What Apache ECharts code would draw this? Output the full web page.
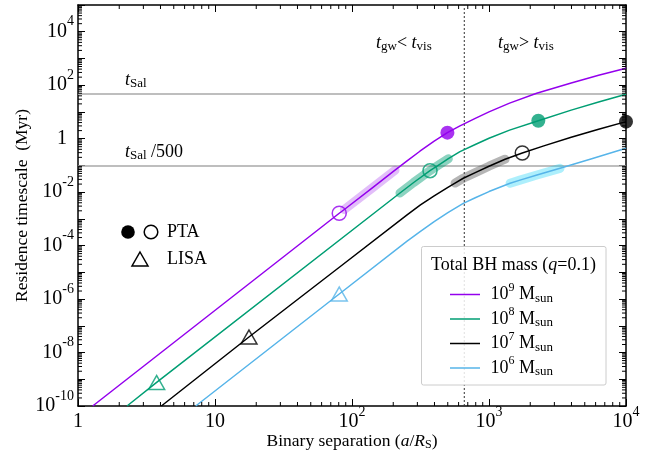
<!DOCTYPE html>
<html>
<head>
<meta charset="utf-8">
<script src="https://cdn.jsdelivr.net/npm/echarts@6/dist/echarts.min.js"></script>
<style>
  html, body { margin: 0; padding: 0; background: #fff; }
  #chart { width: 667px; height: 458px; }
</style>
</head>
<body>
<div id="chart"></div>
<script>
// Residence time (Myr) against binary separation (a / R_S) for four total masses, q = 0.1

// 10^9 Msun track
const sep9 = [1.28, 80.7, 87.9, 140, 206, 251, 313, 398, 497, 614, 794, 1000, 1413, 2228, 3981, 6310, 10000];
const res9 = [1e-10, 1.62e-3, 2.24e-3, 0.0141, 0.0661, 0.145, 0.339, 0.813, 1.68, 2.99, 5.75, 10, 21.4, 50.1, 121, 234, 430];
// 10^8 Msun track
const sep8 = [2.28, 3.75, 224, 282, 371, 437, 505, 614, 794, 1000, 1413, 2291, 3981, 6310, 10000];
const res8 = [1e-10, 7.6e-10, 9.3e-3, 0.0229, 0.0635, 0.110, 0.178, 0.327, 0.603, 1.035, 2.09, 4.68, 11.7, 23.4, 45.8];
// 10^7 Msun track
const sep7 = [4.06, 17.7, 81.7, 251, 316, 398, 501, 565, 649, 794, 1000, 1310, 1750, 2512, 3981, 6310, 10000];
const res7 = [1e-10, 3.8e-8, 1.62e-5, 1.38e-3, 3.31e-3, 7.24e-3, 0.0151, 0.0219, 0.0331, 0.0537, 0.0933, 0.17, 0.292, 0.537, 1.127, 2.24, 4.33];
// 10^6 Msun track
const sep6 = [7.23, 80.7, 251, 316, 398, 501, 649, 794, 1000, 1425, 1683, 2239, 3300, 5623, 10000];
const res6 = [1e-10, 1.55e-6, 1.45e-4, 3.39e-4, 7.94e-4, 1.70e-3, 3.8e-3, 6.17e-3, 0.0105, 0.0214, 0.0282, 0.0437, 0.0776, 0.178, 0.437];

// separation ranges highlighted along each track
const band9 = [87.9, 206];
const band8 = [224, 505];
const band7 = [565, 1310];
const band6 = [1425, 3300];

// PTA (filled / open circles) and LISA (triangles) points: [separation, time, track]
const ptaFilled = [[497, 1.68, 9], [2291, 4.68, 8], [10000, 4.33, 7]];
const ptaOpen   = [[80.7, 1.62e-3, 9], [371, 0.0635, 8], [1750, 0.292, 7]];
const lisaPts   = [[3.75, 7.6e-10, 8], [17.7, 3.8e-8, 7], [80.7, 1.55e-6, 6]];

// reference timescales (Myr)
const tSal = 47;
const tSalFrac = [tSal, tSal / 500];
// boundary between t_gw < t_vis and t_gw > t_vis
const sepBoundary = 660;

// axis extents and labelled decades
const xRange = [1, 1e4];
const yRange = [1e-10, 1e5];
const xLabelExps = [0, 1, 2, 3, 4];
const yLabelExps = [4, 2, 0, -2, -4, -6, -8, -10];

const COL = { 9: '#9400ED', 8: '#009E73', 7: '#000000', 6: '#56B4E9' };
const BAND_COL = {
  9: 'rgba(160, 40, 235, 0.30)',
  8: 'rgba(0, 158, 115, 0.45)',
  7: 'rgba(90, 90, 90, 0.45)',
  6: 'rgba(0, 205, 245, 0.32)'
};
const SERIF = '"Liberation Serif", "Times New Roman", serif';

const pair = (xs, ys) => xs.map((x, i) => [x, ys[i]]);
const inBand = (pts, r) => pts.filter(p => p[0] >= r[0] && p[0] <= r[1]);

const track9 = pair(sep9, res9);
const track8 = pair(sep8, res8);
const track7 = pair(sep7, res7);
const track6 = pair(sep6, res6);

// minor tick positions (2..9 within each decade)
const minorX = [];
for (let e = 0; e < 4; e++) for (let m = 2; m <= 9; m++) minorX.push(m * Math.pow(10, e));
const minorY = [];
for (let e = -10; e < 5; e++) for (let m = 2; m <= 9; m++) minorY.push(m * Math.pow(10, e));

const tickRich = {
  b: { fontFamily: SERIF, fontSize: 20, color: '#000', lineHeight: 22 },
  s: { fontFamily: SERIF, fontSize: 14, color: '#000', lineHeight: 22, padding: [0, 0, 20, 0] },
  one: { fontFamily: SERIF, fontSize: 20, color: '#000', lineHeight: 22, padding: [0, 7, 0, 0] }
};
function expLabel(v, list, isY) {
  const e = Math.round(Math.log10(v));
  if (!list.includes(e)) return '';
  if (e === 0) return isY ? '{one|1}' : '{b|1}';
  if (e === 1) return '{b|10}';
  return '{b|10}{s|' + (e < 0 ? '-' + (-e) : e) + '}';
}

function lineSeries(name, data, color, width, extra) {
  return Object.assign({
    name: name, type: 'line', data: data, showSymbol: false, symbol: 'none',
    lineStyle: { color: color, width: width, join: 'round' }, silent: true, animation: false, clip: true
  }, extra || {});
}

const series = [];
// horizontal reference lines
tSalFrac.forEach(t => {
  series.push(lineSeries('ref', [[xRange[0], t], [xRange[1], t]], '#a8a8a8', 1.5, { z: 1 }));
});
// vertical regime boundary
series.push(lineSeries('boundary', [[sepBoundary, yRange[0]], [sepBoundary, yRange[1]]], '#333', 1,
  { z: 1, lineStyle: { color: '#333', width: 1, type: [2, 2] } }));

// highlighted bands
[[track9, band9, 9], [track8, band8, 8], [track7, band7, 7], [track6, band6, 6]].forEach(([tr, r, k]) => {
  series.push(lineSeries('band' + k, inBand(tr, r), BAND_COL[k], 9,
    { z: 2, lineStyle: { color: BAND_COL[k], width: 9, cap: 'round', join: 'round' } }));
});
// tracks
[[track9, 9], [track8, 8], [track7, 7], [track6, 6]].forEach(([tr, k]) => {
  series.push(lineSeries('1e' + k, tr, COL[k], 1.5, { z: 3 }));
});

// markers
series.push({
  type: 'scatter', z: 5, symbol: 'circle', symbolSize: 14, animation: false, silent: true,
  data: ptaFilled.map(p => ({ value: [p[0], p[1]], itemStyle: { color: COL[p[2]] } }))
});
series.push({
  type: 'scatter', z: 5, symbol: 'circle', symbolSize: 14, animation: false, silent: true,
  data: ptaOpen.map(p => ({ value: [p[0], p[1]],
    itemStyle: { color: 'rgba(0,0,0,0)', borderColor: COL[p[2]], borderWidth: 1.5 } }))
});
series.push({
  type: 'scatter', z: 5, symbol: 'triangle', symbolSize: [16, 14], animation: false, silent: true,
  data: lisaPts.map(p => ({ value: [p[0], p[1]],
    itemStyle: { color: 'rgba(0,0,0,0)', borderColor: COL[p[2]], borderWidth: 1.5 } }))
});

// minor ticks on all four sides
series.push({
  type: 'custom', z: 10, silent: true, animation: false, clip: false,
  data: minorX.map(v => [v, 1]),
  renderItem: function (params, api) {
    const cs = params.coordSys;
    const p = api.coord([api.value(0), 1]);
    const st = { stroke: '#000', lineWidth: 1 };
    return { type: 'group', children: [
      { type: 'line', shape: { x1: p[0], y1: cs.y + cs.height, x2: p[0], y2: cs.y + cs.height - 4 }, style: st },
      { type: 'line', shape: { x1: p[0], y1: cs.y, x2: p[0], y2: cs.y + 4 }, style: st }
    ] };
  }
});
series.push({
  type: 'custom', z: 10, silent: true, animation: false, clip: false,
  data: minorY.map(v => [1, v]),
  renderItem: function (params, api) {
    const cs = params.coordSys;
    const p = api.coord([1, api.value(1)]);
    const st = { stroke: '#000', lineWidth: 1 };
    return { type: 'group', children: [
      { type: 'line', shape: { x1: cs.x, y1: p[1], x2: cs.x + 4, y2: p[1] }, style: st },
      { type: 'line', shape: { x1: cs.x + cs.width, y1: p[1], x2: cs.x + cs.width - 4, y2: p[1] }, style: st }
    ] };
  }
});

const axisLineStyle = { show: true, onZero: false, lineStyle: { color: '#000', width: 1.5 } };
const majorTick = { show: true, inside: true, length: 7, lineStyle: { color: '#000', width: 1 } };

const nameRich = {
  r: { fontFamily: SERIF, fontSize: 17.5, color: '#000', lineHeight: 20 },
  i: { fontFamily: SERIF, fontSize: 17.5, color: '#000', fontStyle: 'italic', lineHeight: 20 },
  sub: { fontFamily: SERIF, fontSize: 12, color: '#000', lineHeight: 20, padding: [8, 0, 0, 0] }
};

const option = {
  backgroundColor: '#fff',
  animation: false,
  grid: { left: 78, right: 41, top: 5, bottom: 52, containLabel: false, outerBoundsMode: 'none' },
  xAxis: [
    {
      type: 'log', logBase: 10, min: xRange[0], max: xRange[1], position: 'bottom',
      axisLine: axisLineStyle, axisTick: majorTick, splitLine: { show: false }, minorTick: { show: false },
      axisLabel: { formatter: v => expLabel(v, xLabelExps, false), rich: tickRich, margin: 5, showMinLabel: true, showMaxLabel: true, hideOverlap: false },
      name: '{r|Binary separation (}{i|a}{r|/}{i|R}{sub|S}{r|)}',
      nameLocation: 'middle', nameGap: 25, nameMoveOverlap: false,
      nameTextStyle: { rich: nameRich }
    },
    {
      type: 'log', logBase: 10, min: xRange[0], max: xRange[1], position: 'top',
      axisLine: axisLineStyle, axisTick: majorTick, splitLine: { show: false },
      axisLabel: { show: false }
    }
  ],
  yAxis: [
    {
      type: 'log', logBase: 10, min: yRange[0], max: yRange[1], interval: 1, position: 'left',
      axisLine: axisLineStyle, axisTick: majorTick, splitLine: { show: false }, minorTick: { show: false },
      axisLabel: { formatter: v => expLabel(v, yLabelExps, true), rich: tickRich, margin: 4, showMinLabel: true, showMaxLabel: true, hideOverlap: false },
      name: 'Residence timescale  (Myr)', nameLocation: 'middle', nameGap: 47, nameMoveOverlap: false,
      nameTextStyle: { fontFamily: SERIF, fontSize: 17.5, color: '#000' }
    },
    {
      type: 'log', logBase: 10, min: yRange[0], max: yRange[1], interval: 1, position: 'right',
      axisLine: axisLineStyle, axisTick: majorTick, splitLine: { show: false },
      axisLabel: { show: false }
    }
  ],
  series: series.map(s => Object.assign({ xAxisIndex: 0, yAxisIndex: 0 }, s)),
  graphic: []
};

// annotation text
const annRich = {
  i: { fontFamily: SERIF, fontSize: 18, fontStyle: 'italic', fill: '#000', lineHeight: 20 },
  r: { fontFamily: SERIF, fontSize: 18, fill: '#000', lineHeight: 20 },
  sub: { fontFamily: SERIF, fontSize: 13, fill: '#000', lineHeight: 20, padding: [8, 0, 0, 0] },
  sup: { fontFamily: SERIF, fontSize: 12, fill: '#000', lineHeight: 20, padding: [0, 0, 14, 0] }
};
function annText(x, y, text, align) {
  return { type: 'text', x: x, y: y, z: 20, silent: true,
    style: { text: text, rich: annRich, align: align || 'left', verticalAlign: 'middle' } };
}
const g = option.graphic;
g.push(annText(125, 80, '{i|t}{sub|Sal}'));
g.push(annText(125, 152, '{i|t}{sub|Sal}{r| /500}'));
g.push(annText(376, 43, '{i|t}{sub|gw}{r|< }{i|t}{sub|vis}'));
g.push(annText(498, 43, '{i|t}{sub|gw}{r|> }{i|t}{sub|vis}'));

// PTA / LISA key
g.push({ type: 'circle', z: 20, silent: true, shape: { cx: 128, cy: 232, r: 6.8 }, style: { fill: '#000' } });
g.push({ type: 'circle', z: 20, silent: true, shape: { cx: 151, cy: 232, r: 6.8 }, style: { fill: 'none', stroke: '#000', lineWidth: 1.5 } });
g.push(annText(167, 232, '{r|PTA}'));
g.push({ type: 'polygon', z: 20, silent: true, shape: { points: [[140, 252], [148, 266], [132, 266]] }, style: { fill: 'none', stroke: '#000', lineWidth: 1.5 } });
g.push(annText(167, 259, '{r|LISA}'));

// mass legend
g.push({ type: 'rect', z: 19, silent: true, shape: { x: 421.5, y: 246.5, width: 184.5, height: 138.5, r: 2 },
  style: { fill: 'rgba(255,255,255,0.85)', stroke: '#cccccc', lineWidth: 1 } });
g.push(annText(513.5, 265, '{r|Total BH mass (}{i|q}{r|=0.1)}', 'center'));
const legendRows = [[9, 294.5], [8, 319], [7, 343.5], [6, 368]];
legendRows.forEach(([k, y]) => {
  g.push({ type: 'line', z: 20, silent: true, shape: { x1: 450, y1: y, x2: 480, y2: y }, style: { stroke: COL[k], lineWidth: 1.5 } });
  g.push(annText(490.5, y, '{r|10}{sup|' + k + '}{r| M}{sub|sun}'));
});

const chart = echarts.init(document.getElementById('chart'), null, { renderer: 'canvas' });
chart.setOption(option);
</script>
</body>
</html>
